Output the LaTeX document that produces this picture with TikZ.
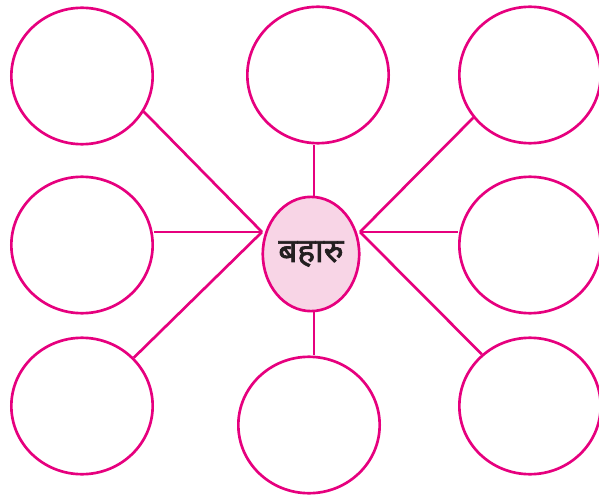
\documentclass[tikz,border=0pt]{standalone}
\usepackage{fontspec}
\newfontfamily\devfont[Script=Devanagari,FakeBold=2]{Noto Sans}
\usepackage{tikz}
\usetikzlibrary{positioning,shapes.geometric}
\definecolor{webmagenta}{RGB}{230,0,126}
\definecolor{webpink}{RGB}{248,213,230}
\definecolor{webtext}{RGB}{35,31,32}
\tikzset{
  leaf/.style={ellipse,draw=webmagenta,line width=2pt,minimum width=106pt,minimum height=102.3pt,inner sep=0pt},
  hub/.style={ellipse,draw=webmagenta,fill=webpink,line width=2pt,minimum width=72.3pt,minimum height=85.7pt,inner sep=0pt,text=webtext},
  spoke/.style={draw=webmagenta,line width=2pt}
}
\begin{document}
\begin{tikzpicture}[x=0.75pt,y=-0.75pt]
  \useasboundingbox (0,0) rectangle (599,495);
  \node[hub] (c) at (311,254) {\raisebox{2pt}{\devfont\fontsize{25}{28}\selectfont बहारु}};
  \node[leaf] (tl) at (82,76) {};\node[leaf] (tm) at (318,75) {};\node[leaf] (tr) at (530,75) {};
  \node[leaf] (ml) at (82,245) {};\node[leaf] (mr) at (530,245) {};
  \node[leaf] (bl) at (82,406) {};\node[leaf] (bm) at (309,425) {};\node[leaf] (br) at (530,406) {};
  \coordinate (cl) at (262,232);\coordinate (cr) at (360,232);
  % spokes
  \draw[spoke] (tl.-30) -- (cl);\draw[spoke] (ml.east |- cl) -- (cl);\draw[spoke] (bl.43) -- (cl);
  \draw[spoke] (tr.217) -- (cr);\draw[spoke] (mr.west |- cr) -- (cr);\draw[spoke] (br.133) -- (cr);
  \draw[spoke] ([xshift=2.2pt]c.north) -- ([xshift=2.2pt]c.north |- tm.south);\draw[spoke] ([xshift=2.2pt]c.south) -- ([xshift=2.2pt]c.south |- bm.north);
\end{tikzpicture}
\end{document}
